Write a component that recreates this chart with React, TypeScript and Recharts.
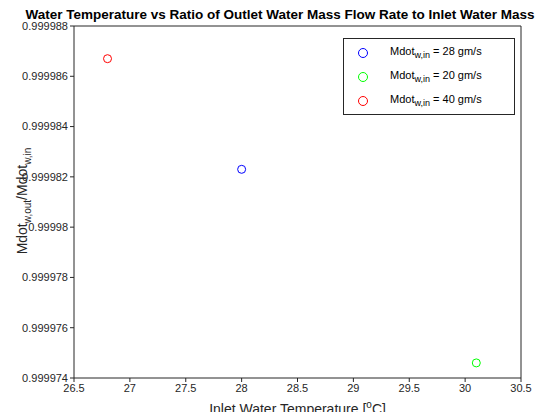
import { ReferenceLine, Scatter, ScatterChart, XAxis, YAxis } from "recharts";

const xTicks = [26.5, 27, 27.5, 28, 28.5, 29, 29.5, 30, 30.5];
const yTicks = [0.999974, 0.999976, 0.999978, 0.99998, 0.999982, 0.999984, 0.999986, 0.999988];

const series28 = [{ t: 28.0, r: 0.9999823 }];
const series20 = [{ t: 30.1, r: 0.9999746 }];
const series40 = [{ t: 26.8, r: 0.9999867 }];

const SERIES = [
  { name: "28", data: series28, color: "#0000ff" },
  { name: "20", data: series20, color: "#00ff00" },
  { name: "40", data: series40, color: "#ff0000" },
];

const FONT = "'Liberation Sans', Arial, sans-serif";
const tick = { fontSize: 11, fill: "#262626", fontFamily: FONT };

function fmt(v: number) {
  return parseFloat(v.toFixed(6)).toString();
}

function ring(color: string) {
  return (p: any) => (
    <circle cx={p.cx} cy={p.cy} r={4} fill="none" stroke={color} strokeWidth={1} />
  );
}

export default function App() {
  return (
    <div style={{ position: "relative", width: 560, height: 420, margin: -8, background: "#fff", fontFamily: FONT }}>
      <ScatterChart width={560} height={420} margin={{ top: 26, right: 39, left: 0, bottom: 0 }}>
        <XAxis
          type="number"
          dataKey="t"
          domain={[26.5, 30.5]}
          ticks={xTicks}
          tick={tick}
          height={42}
          stroke="#262626"
          tickSize={4}
          allowDataOverflow
        />
        <YAxis
          type="number"
          dataKey="r"
          domain={[0.999974, 0.999988]}
          ticks={yTicks}
          tick={tick}
          tickFormatter={fmt}
          width={74}
          stroke="#262626"
          tickSize={4}
          allowDataOverflow
        />
        <ReferenceLine y={0.999988} stroke="#262626" />
        <ReferenceLine x={30.5} stroke="#262626" />
        {SERIES.map((s) => (
          <Scatter key={s.name} data={s.data} shape={ring(s.color)} isAnimationActive={false} />
        ))}
      </ScatterChart>
      <div style={{ position: "absolute", top: 8, left: 0, width: 560, textAlign: "center", fontWeight: "bold", fontSize: 13.5, whiteSpace: "nowrap", lineHeight: 1 }}>
        Water Temperature vs Ratio of Outlet Water Mass Flow Rate to Inlet Water Mass
      </div>
      <div style={{ position: "absolute", top: 402, left: 74, width: 447, textAlign: "center", fontSize: 14, color: "#262626", lineHeight: 1 }}>
        Inlet Water Temperature [<sup style={{ fontSize: 10, lineHeight: 0 }}>o</sup>C]
      </div>
      <div
        style={{
          position: "absolute",
          left: 22,
          top: 201,
          fontSize: 14,
          color: "#262626",
          lineHeight: 1,
          transform: "translate(-50%, -50%) rotate(-90deg)",
          whiteSpace: "nowrap",
        }}
      >
        Mdot<sub style={{ fontSize: 10, lineHeight: 0 }}>w,out</sub>/Mdot<sub style={{ fontSize: 10, lineHeight: 0 }}>w,in</sub>
      </div>
      <div style={{ position: "absolute", left: 343, top: 38, width: 170, height: 75, border: "1px solid #262626", background: "#fff", fontSize: 11, color: "#000" }}>
        {SERIES.map((s, i) => (
          <div key={s.name} style={{ position: "absolute", left: 14, top: 6 + i * 24, display: "flex", alignItems: "center" }}>
            <span style={{ width: 8, height: 8, borderRadius: "50%", border: `1px solid ${s.color}`, marginRight: 22 }} />
            <span>
              Mdot<sub style={{ fontSize: 9 }}>w,in</sub> = {s.name} gm/s
            </span>
          </div>
        ))}
      </div>
    </div>
  );
}
